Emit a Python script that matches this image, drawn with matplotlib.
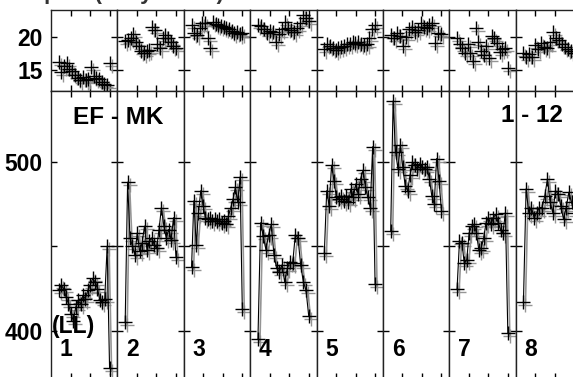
import numpy as np
import matplotlib
matplotlib.use("Agg")
import matplotlib.pyplot as plt
import matplotlib.transforms as mtransforms

plt.rcParams['font.family'] = ['Liberation Sans', 'DejaVu Sans']
plt.rcParams['font.weight'] = 'bold'

# group labels along the bottom
groups = ['1', '2', '3', '4', '5', '6', '7', '8']

# upper panel (small values), one list per group
top_vals = [
    [16.2, 14.7, 15.6, 16.0, 15.2, 14.8, 14.3, 13.8, 13.5, 13.9, 13.4, 13.6, 15.4, 14.1, 13.8, 13.6, 13.2, 12.9, 12.7, 16.0],
    [19.4, 19.6, 19.8, 20.4, 19.2, 18.6, 17.9, 17.6, 17.8, 18.1, 21.5, 21.0, 19.0, 18.3, 19.8, 20.3, 19.9, 19.2, 18.7, 18.3],
    [21.8, 20.6, 20.3, 21.3, 22.1, 22.2, 19.8, 18.3, 22.3, 22.0, 21.8, 21.7, 21.5, 21.4, 21.2, 20.9, 20.6, 20.7, 20.5, 20.6],
    [21.8, 21.6, 21.2, 20.6, 20.9, 20.7, 19.3, 20.4, 21.2, 22.3, 21.4, 21.1, 20.8, 21.3, 22.1, 23.4, 22.9, 22.5],
    [18.2, 18.9, 18.6, 18.4, 18.1, 18.3, 18.5, 18.7, 18.9, 19.0, 19.2, 19.1, 19.3, 19.0, 18.8, 18.9, 19.9, 21.2, 21.8],
    [20.3, 19.9, 20.6, 20.2, 18.6, 20.0, 21.2, 21.5, 20.8, 21.1, 22.2, 21.5, 21.3, 21.8, 22.1, 19.1, 20.6, 20.4],
    [19.8, 18.9, 18.3, 17.6, 19.0, 17.5, 16.3, 21.4, 19.2, 17.9, 17.3, 18.6, 16.8, 20.1, 19.8, 19.1, 17.7, 18.2, 18.3, 15.3],
    [17.6, 17.0, 17.4, 16.9, 18.8, 18.2, 19.1, 18.5, 18.3, 19.2, 20.7, 19.9, 19.6, 19.0, 18.5, 18.2, 17.9, 17.6],
]

# lower panel (large values), one list per group
bot_vals = [
    [424, 427, 425, 420, 416, 410, 406, 414, 418, 416, 421, 419, 424, 427, 431, 429, 425, 418, 417, 419, 450, 378],
    [405, 488, 455, 450, 445, 458, 447, 452, 462, 448, 453, 455, 451, 449, 460, 473, 462, 455, 460, 454, 467, 444],
    [438, 477, 451, 470, 483, 474, 467, 466, 467, 465, 466, 465, 466, 464, 465, 463, 468, 473, 478, 485, 476, 491, 413],
    [395, 464, 456, 448, 457, 463, 445, 437, 435, 439, 429, 437, 441, 440, 457, 455, 439, 429, 424, 409],
    [446, 483, 474, 498, 489, 479, 478, 480, 477, 480, 476, 484, 479, 487, 481, 490, 495, 485, 479, 473, 509, 428],
    [459, 536, 506, 496, 510, 497, 486, 483, 492, 500, 498, 496, 499, 497, 496, 497, 490, 480, 475, 502, 489, 471],
    [425, 453, 452, 440, 442, 458, 462, 463, 458, 448, 449, 455, 464, 467, 463, 467, 469, 464, 460, 458, 470, 399],
    [417, 484, 470, 473, 467, 470, 473, 473, 480, 490, 476, 470, 483, 481, 474, 466, 473, 482, 476, 470],
]

W, H = 573, 377
fig = plt.figure(figsize=(W / 100, H / 100), dpi=100)
gs = fig.add_gridspec(2, 8, left=51 / W, right=582 / W, top=1 - 10 / H, bottom=1 - 379 / H,
                      height_ratios=[81, 288], hspace=0, wspace=0)

for g in range(8):
    ax_t = fig.add_subplot(gs[0, g])
    ax_b = fig.add_subplot(gs[1, g])
    for ax, vals, line in ((ax_t, top_vals[g], False), (ax_b, bot_vals[g], True)):
        x = np.linspace(4, 30, len(vals))
        shadow = mtransforms.offset_copy(ax.transData, fig=fig, x=2, y=-3, units='dots')
        ax.plot(x, vals, ls='-' if line else 'none', marker='+', ms=10, mew=1,
                color='#8a8a8a', lw=1.2, transform=shadow, alpha=0.9)
        ax.plot(x, vals, ls='-' if line else 'none', marker='+', ms=10, mew=1,
                color='black', lw=0.8)
        ax.set_xlim(0, 34)
        ax.set_xticks([10, 20, 30])
        ax.set_xticklabels([])
        ax.tick_params(direction='in', length=4, width=1, top=True, bottom=True,
                       left=True, right=True, labelsize=16.5, pad=6)
        for s in ax.spines.values():
            s.set_color('#222222')
            s.set_linewidth(1)
    ax_t.set_ylim(11.8, 24.1)
    ax_t.set_yticks([15, 20])
    ax_b.set_ylim(371.5, 542)
    ax_b.set_yticks([400, 450, 500])
    if g == 0:
        ax_b.set_yticklabels(['400', '', '500'])
    else:
        ax_t.set_yticklabels([])
        ax_b.set_yticklabels([])
    ax_b.text(9 / 66.4, (379 - 350) / 288, groups[g], transform=ax_b.transAxes,
              fontsize=16.5, fontweight='bold', ha='left', va='center')

fig.text(118 / W, 1 - 117 / H, 'EF - MK', fontsize=17.5, fontweight='bold', ha='center', va='center')
fig.text(532 / W, 1 - 116 / H, '1 - 12', fontsize=17.5, fontweight='bold', ha='center', va='center')
fig.text(52 / W, 1 - 327 / H, '(LL)', fontsize=16.5, fontweight='bold', ha='left', va='center')
fig.text(0.0, 1 + 1 / H, 'Temp.     (daily mean)', fontsize=16, fontweight='bold',
         ha='left', va='baseline', color='#333333')

fig.savefig('out.png', dpi=100)
